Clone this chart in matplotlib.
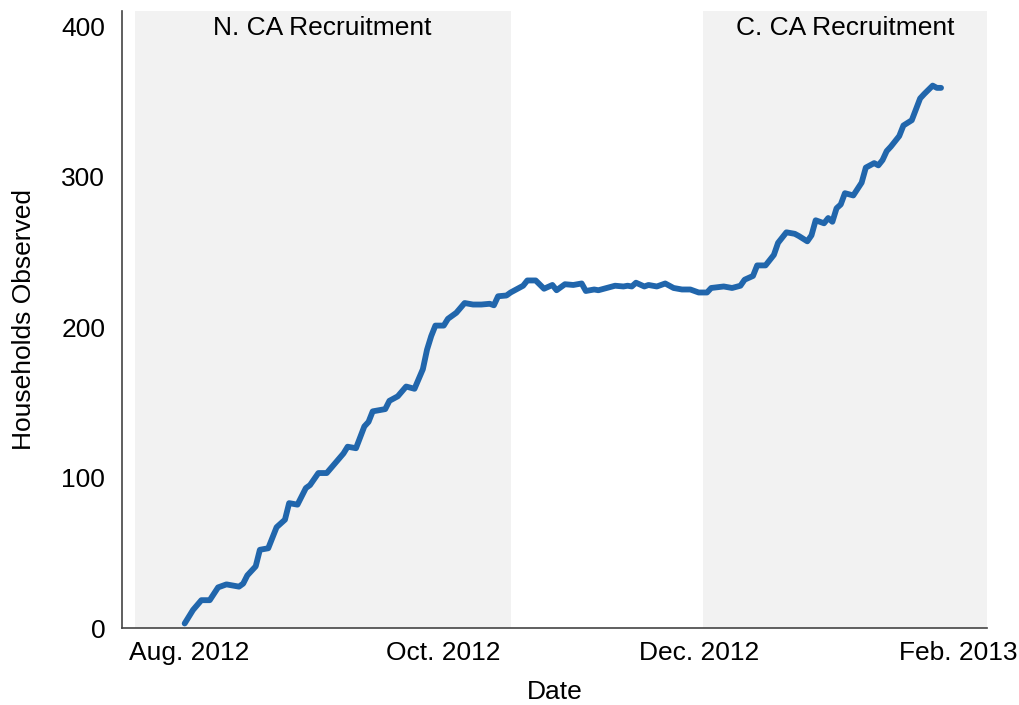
import matplotlib
matplotlib.use("Agg")
import matplotlib.pyplot as plt
import pandas as pd

plt.rcParams['font.family'] = ['Liberation Sans', 'DejaVu Sans']

dates = [
    "2012-07-31", "2012-08-02", "2012-08-04", "2012-08-06", "2012-08-08", "2012-08-10",
    "2012-08-13", "2012-08-14", "2012-08-15", "2012-08-17", "2012-08-18", "2012-08-20",
    "2012-08-22", "2012-08-24", "2012-08-25", "2012-08-27", "2012-08-29", "2012-08-30",
    "2012-09-01", "2012-09-03", "2012-09-05", "2012-09-07", "2012-09-08", "2012-09-10",
    "2012-09-12", "2012-09-13", "2012-09-14", "2012-09-17", "2012-09-18", "2012-09-20",
    "2012-09-22", "2012-09-24", "2012-09-26", "2012-09-27", "2012-09-28", "2012-09-29",
    "2012-10-01", "2012-10-02", "2012-10-04", "2012-10-06", "2012-10-08", "2012-10-10",
    "2012-10-12", "2012-10-13", "2012-10-14", "2012-10-16", "2012-10-17", "2012-10-19",
    "2012-10-20", "2012-10-21", "2012-10-23", "2012-10-25", "2012-10-27", "2012-10-28",
    "2012-10-30", "2012-11-01", "2012-11-03", "2012-11-04", "2012-11-06", "2012-11-07",
    "2012-11-09", "2012-11-11", "2012-11-13", "2012-11-14", "2012-11-15", "2012-11-16",
    "2012-11-18", "2012-11-19", "2012-11-21", "2012-11-23", "2012-11-25", "2012-11-27",
    "2012-11-29", "2012-12-01", "2012-12-03", "2012-12-04", "2012-12-07", "2012-12-09",
    "2012-12-11", "2012-12-12", "2012-12-14", "2012-12-15", "2012-12-17", "2012-12-19",
    "2012-12-20", "2012-12-22", "2012-12-24", "2012-12-25", "2012-12-27", "2012-12-28",
    "2012-12-29", "2012-12-31", "2013-01-01", "2013-01-02", "2013-01-03", "2013-01-04",
    "2013-01-05", "2013-01-07", "2013-01-09", "2013-01-10", "2013-01-12", "2013-01-13",
    "2013-01-14", "2013-01-15", "2013-01-16", "2013-01-18", "2013-01-19", "2013-01-21",
    "2013-01-23", "2013-01-24", "2013-01-26", "2013-01-27", "2013-01-28",
]
households = [
    3, 12, 18.5, 18.5, 27, 29,
    27.5, 29.5, 35, 41, 52, 53,
    67, 72, 83, 82, 93, 95,
    103, 103, 109.5, 116, 120.5, 119.5,
    134, 137, 144, 145.5, 151, 154,
    160.5, 159, 172, 185, 194, 201,
    201, 205.5, 209.5, 216, 215, 215,
    215.5, 214.5, 220.5, 221, 223, 226,
    227.5, 231, 231, 225.5, 228, 224.5,
    228.5, 228, 229, 224, 225, 224.5,
    226, 227.5, 227, 227.5, 227, 229.5,
    227, 228, 227, 229, 226, 225,
    225, 223, 223, 226, 227, 226,
    227.5, 231.5, 234, 241, 241, 248,
    256, 263, 262, 260.5, 257, 261,
    271, 269, 272.5, 270, 279, 281.5,
    289, 287.5, 296, 306, 309, 307.5,
    311, 317, 320, 327, 334, 337.5,
    352, 355, 360.5, 359, 359,
]

regions = [("2012-07-19", "2012-10-17", "N. CA Recruitment"),
           ("2012-12-02", "2013-02-08", "C. CA Recruitment")]
xticks = ["2012-08-01", "2012-10-01", "2012-12-01", "2013-02-01"]
xticklabels = ["Aug. 2012", "Oct. 2012", "Dec. 2012", "Feb. 2013"]
yticks = [0, 100, 200, 300, 400]

x = pd.to_datetime(dates)

fig = plt.figure(figsize=(10.19, 7.05), dpi=100)
ax = fig.add_axes([0.1197, 0.1092, 0.8489, 0.875])

for start, end, label in regions:
    s, e = pd.Timestamp(start), pd.Timestamp(end)
    ax.axvspan(s, e, color='#f2f2f2', zorder=0, lw=0)
    mid = s + (e - s) / 2
    ax.text(mid, 399, label, ha='center', va='center', fontsize=19, color='black')

ax.plot(x, households, color='#2166ac', lw=4.2, solid_capstyle='round',
        solid_joinstyle='round', zorder=3)

ax.set_xlim(pd.Timestamp("2012-07-16"), pd.Timestamp("2013-02-08"))
ax.set_ylim(0, 410)
ax.set_xticks(pd.to_datetime(xticks))
ax.set_xticklabels(xticklabels)
ax.set_yticks(yticks)
ax.tick_params(axis='both', length=0, labelsize=19)
ax.tick_params(axis='y', pad=12)
ax.tick_params(axis='x', pad=9)

for side in ['top', 'right']:
    ax.spines[side].set_visible(False)
for side in ['left', 'bottom']:
    ax.spines[side].set_color('#444444')
    ax.spines[side].set_linewidth(1.2)

ax.set_xlabel("Date", fontsize=19, labelpad=11)
ax.set_ylabel("Households Observed", fontsize=19, labelpad=18)

fig.savefig("out.png", dpi=100)
